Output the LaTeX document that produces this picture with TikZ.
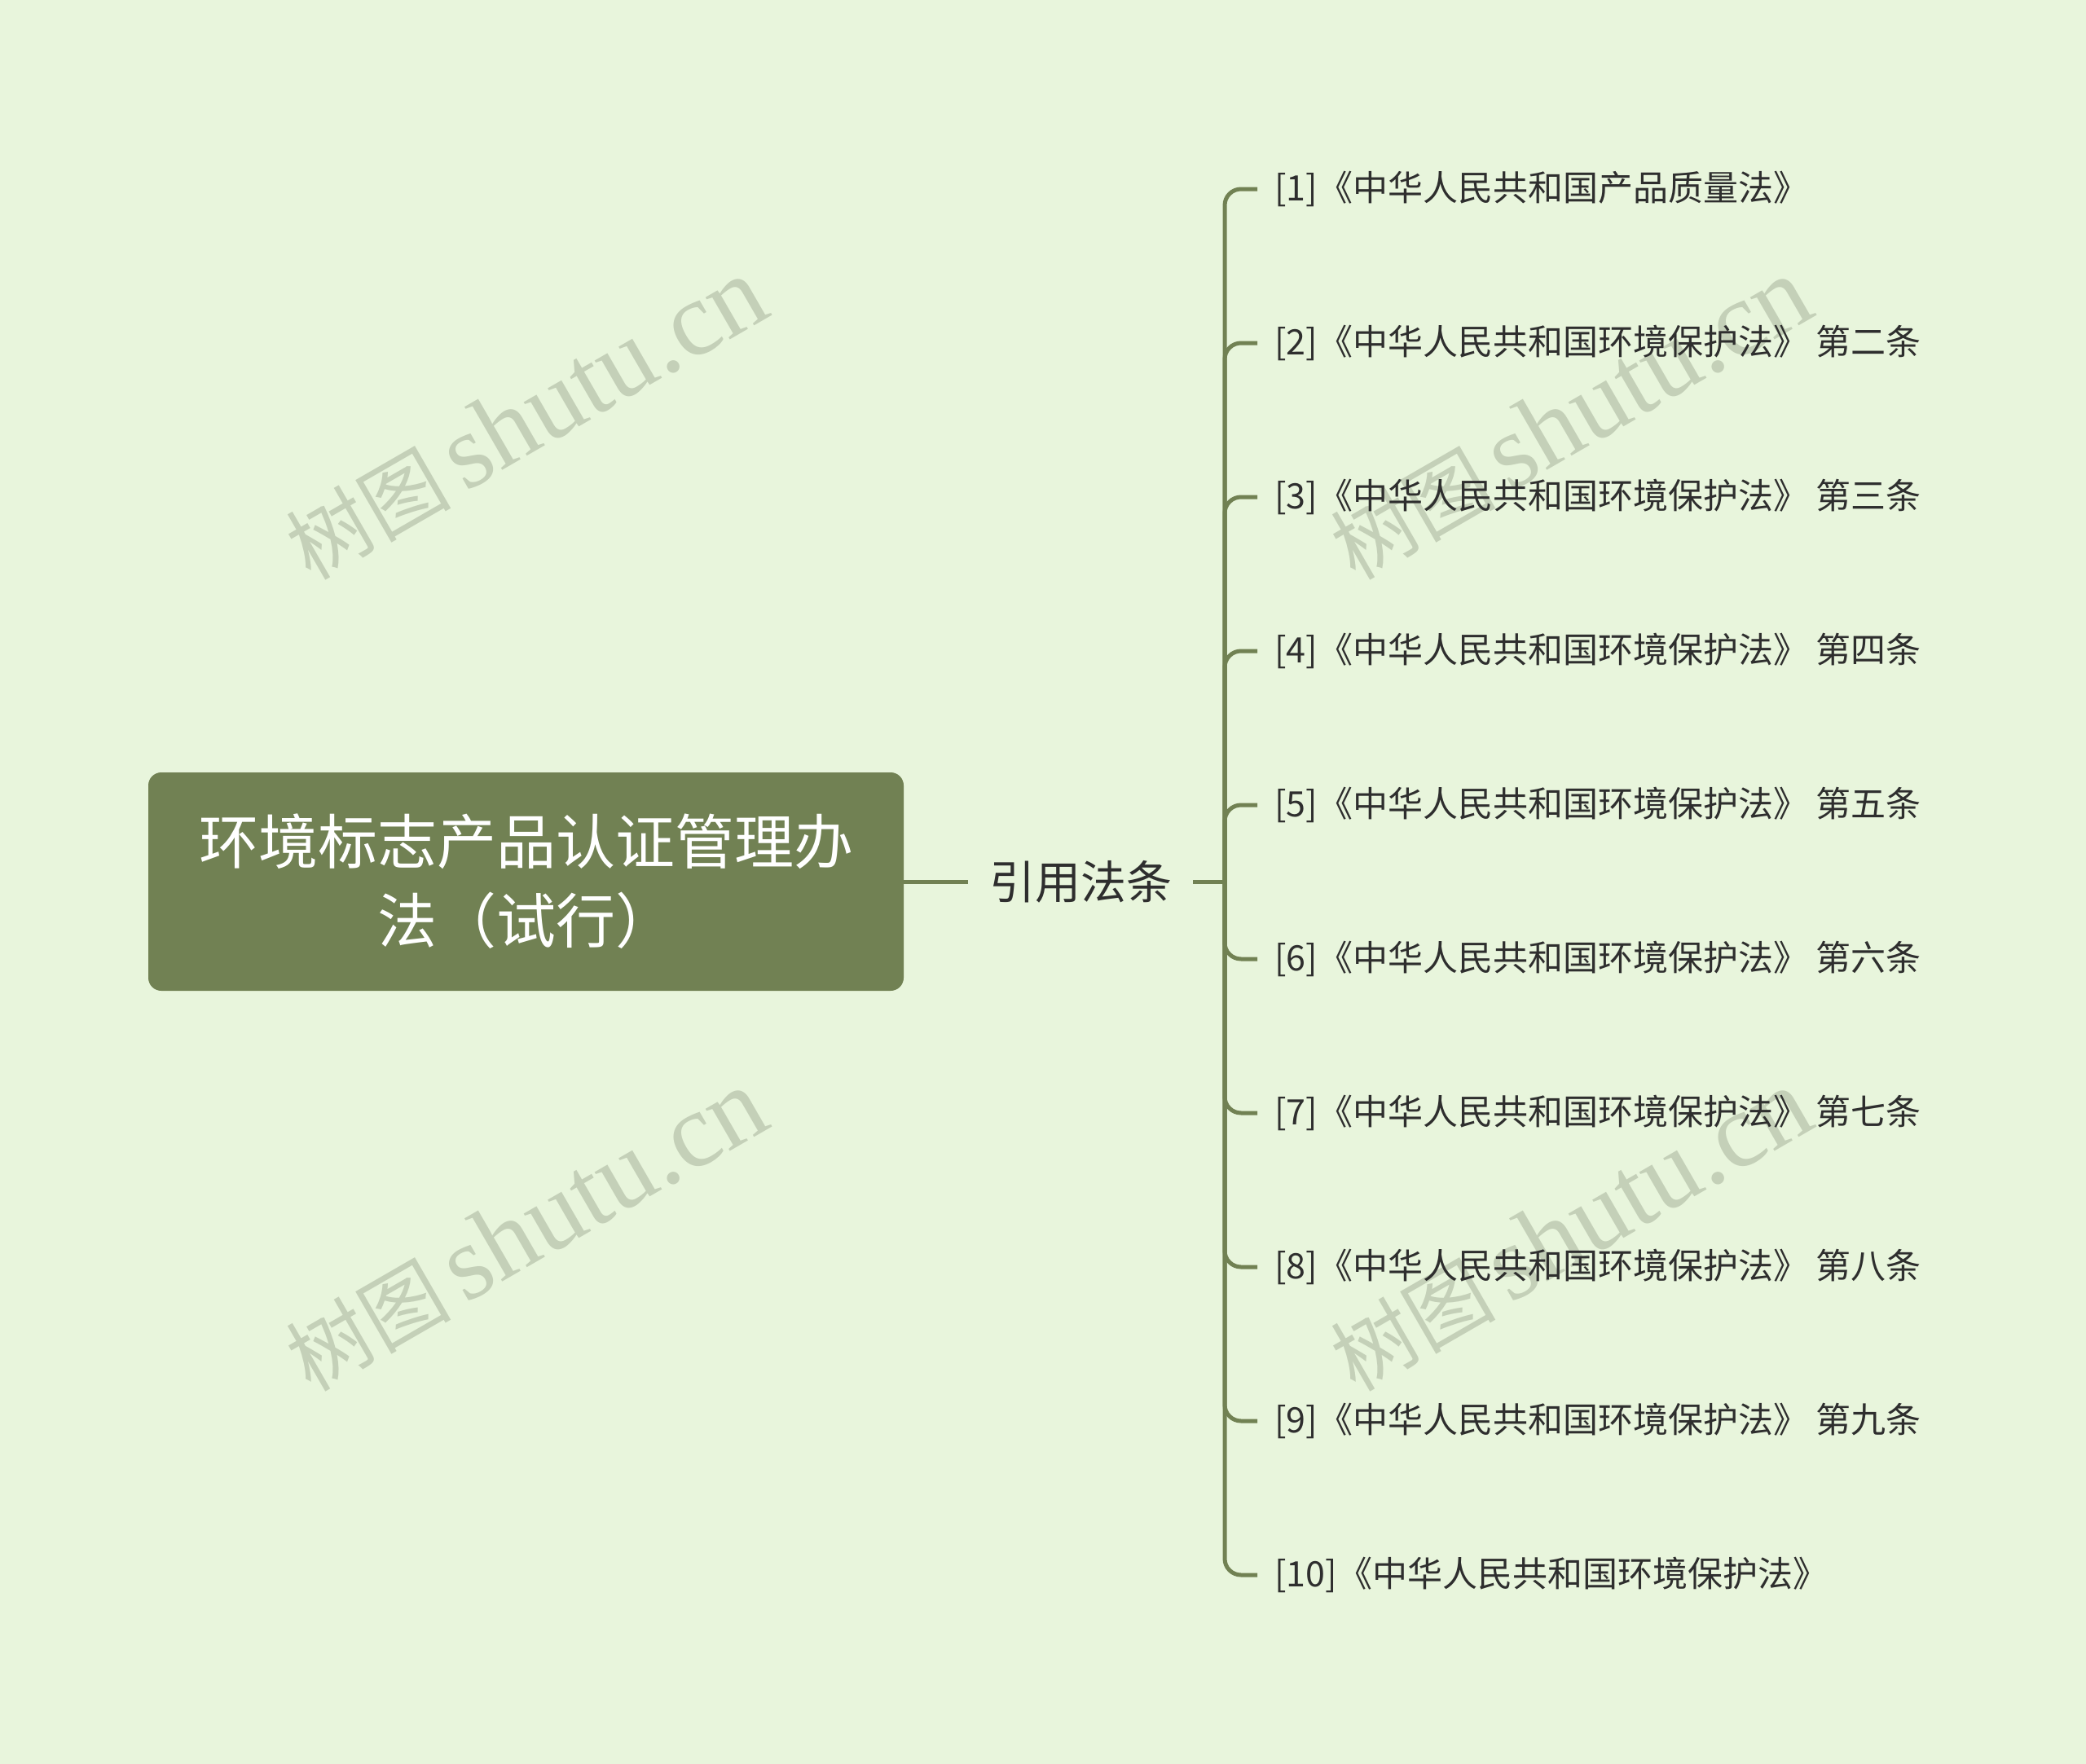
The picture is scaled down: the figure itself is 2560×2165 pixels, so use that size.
\documentclass[tikz,border=0pt]{standalone}
\usepackage{fontspec}
\setmainfont{Noto Sans CJK SC}
\newfontfamily\wmlatin{Liberation Serif}
\definecolor{bgc}{HTML}{E8F5DC}
\definecolor{branch}{HTML}{718153}
\definecolor{txt}{HTML}{2E2E2E}
\definecolor{wmc}{HTML}{C4D0B8}
\tikzset{
  rootbox/.style={fill=branch, rounded corners=16pt, text=white, align=center,
    minimum width=927pt, minimum height=268pt, inner sep=0pt,
    font=\fontsize{73pt}{97pt}\selectfont},
  midbox/.style={text=txt, inner xsep=26pt, inner ysep=0pt,
    font=\fontsize{56pt}{64pt}\selectfont},
  leafbox/.style={anchor=west, text=txt, inner xsep=21pt, inner ysep=0pt,
    font=\fontsize{43pt}{50pt}\selectfont},
  conn/.style={draw=branch, line width=5pt},
  bracket/.style={draw=branch, line width=5pt, rounded corners=20pt},
  wmark/.style={text=wmc, rotate=30, inner sep=0pt}
}
\begin{document}
\begin{tikzpicture}[x=1pt,y=-1pt]
\useasboundingbox (0,0) rectangle (2560,2165);
\fill[bgc] (0,0) rectangle (2560,2165);
% watermarks
\foreach \cx/\cy [count=\k] in {645/514,1927/514,645/1510,1927/1510}{
  \node[wmark] (wm\k) at (\cx,\cy) {\fontsize{101pt}{110pt}\selectfont 树图\,\wmlatin\fontsize{130pt}{132pt}\selectfont shutu.cn};
}
% nodes
\node[rootbox] (root) at (645.5,1082) {环境标志产品认证管理办\\法（试行）};
\node[midbox] (mid) at (1326,1082) {引用法条};
\coordinate (hub) at (1503,1082);
\node[leafbox] (l1) at (1543,232) {[1]《中华人民共和国产品质量法》};
\node[leafbox] (l2) at (1543,421) {[2]《中华人民共和国环境保护法》 第二条};
\node[leafbox] (l3) at (1543,610) {[3]《中华人民共和国环境保护法》 第三条};
\node[leafbox] (l4) at (1543,799) {[4]《中华人民共和国环境保护法》 第四条};
\node[leafbox] (l5) at (1543,988) {[5]《中华人民共和国环境保护法》 第五条};
\node[leafbox] (l6) at (1543,1177) {[6]《中华人民共和国环境保护法》 第六条};
\node[leafbox] (l7) at (1543,1366) {[7]《中华人民共和国环境保护法》 第七条};
\node[leafbox] (l8) at (1543,1555) {[8]《中华人民共和国环境保护法》 第八条};
\node[leafbox] (l9) at (1543,1744) {[9]《中华人民共和国环境保护法》 第九条};
\node[leafbox] (l10) at (1543,1933) {[10]《中华人民共和国环境保护法》};
% connectors
\draw[conn] (root.east) -- (mid.west);
\draw[conn] (mid.east) -- (hub);
\foreach \i in {1,...,10}{
  \draw[bracket] (hub) |- (l\i.west);
}
\end{tikzpicture}
\end{document}
